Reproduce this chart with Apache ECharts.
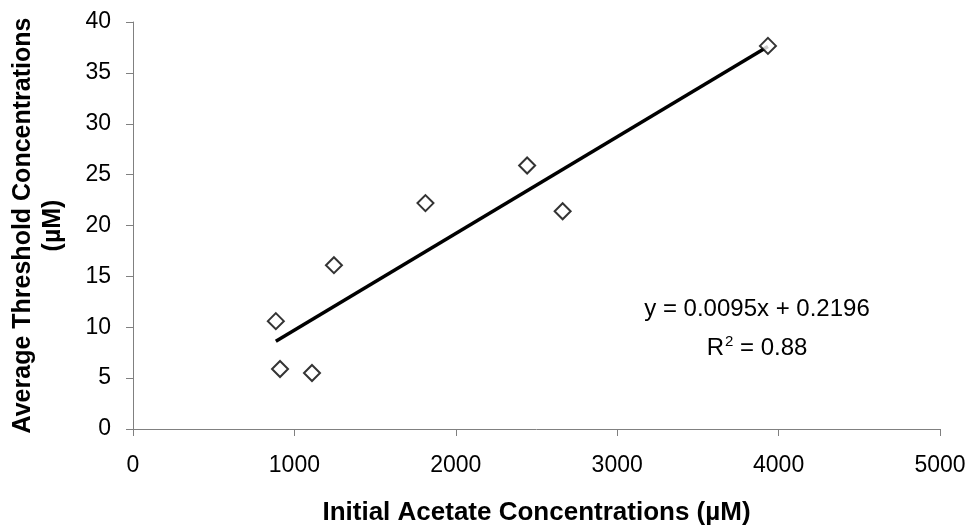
<!DOCTYPE html>
<html>
<head>
<meta charset="utf-8">
<script src="https://cdn.jsdelivr.net/npm/echarts@6/dist/echarts.min.js"></script>
<style>
html,body{margin:0;padding:0;background:#fff;}
#chart{width:971px;height:527px;}
</style>
</head>
<body>
<div id="chart"></div>
<script>
const xValues = [885, 911, 1109, 1245, 1812, 2442, 2662, 3934];
const yValues = [10.6, 5.9, 5.5, 16.1, 22.2, 25.9, 21.4, 37.65];
const slope = 0.0095;
const intercept = 0.2196;
const equationText = 'y = 0.0095x + 0.2196';
const r2Text = '0.88';
const xTitle = 'Initial Acetate Concentrations (µM)';
const yTitle = 'Average Threshold Concentrations\n(µM)';

const points = xValues.map((x, i) => [x, yValues[i]]);
const xMin = Math.min(...xValues), xMax = Math.max(...xValues);
const trend = [[xMin, slope * xMin + intercept], [xMax, slope * xMax + intercept]];

const chart = echarts.init(document.getElementById('chart'));
const font = 'Liberation Sans, Arial, sans-serif';
chart.setOption({
  animation: false,
  backgroundColor: '#fff',
  grid: { left: 133, right: 31, top: 22, bottom: 98, containLabel: false, outerBoundsMode: 'none' },
  xAxis: {
    type: 'value', min: 0, max: 5000, interval: 1000,
    splitLine: { show: false },
    axisLine: { lineStyle: { color: '#808080', width: 1 } },
    axisTick: { show: true, length: 7, lineStyle: { color: '#808080' } },
    axisLabel: { color: '#000', fontSize: 23, fontFamily: font, margin: 25, formatter: v => String(v) },
    name: xTitle, nameLocation: 'middle', nameGap: 71,
    nameTextStyle: { color: '#000', fontSize: 26, fontWeight: 'bold', fontFamily: font }
  },
  yAxis: {
    type: 'value', min: 0, max: 40, interval: 5,
    splitLine: { show: false },
    axisLine: { show: true, lineStyle: { color: '#808080', width: 1 } },
    axisTick: { show: true, length: 7, lineStyle: { color: '#808080' } },
    axisLabel: { color: '#000', fontSize: 23, fontFamily: font, margin: 22 },
    name: yTitle, nameLocation: 'middle', nameGap: 65,
    nameTextStyle: { color: '#000', fontSize: 25, fontWeight: 'bold', fontFamily: font, lineHeight: 30, align: 'center' }
  },
  series: [
    {
      type: 'line', data: trend, symbol: 'none', silent: true,
      lineStyle: { color: '#000', width: 3.5 }, z: 2
    },
    {
      type: 'scatter', data: points, symbol: 'diamond', symbolSize: [16, 16],
      itemStyle: { color: '#fff', borderColor: '#000', borderWidth: 2 }, z: 3
    }
  ],
  graphic: [
    {
      type: 'text', x: 757, y: 309,
      style: { text: equationText, fontSize: 24, fontFamily: font, fill: '#000', align: 'center', verticalAlign: 'middle' }
    },
    {
      type: 'text', x: 757, y: 347,
      style: {
        text: '{a|R}{s|2}{a| = ' + r2Text + '}',
        align: 'center', verticalAlign: 'middle',
        rich: {
          a: { fontSize: 24, fontFamily: font, fill: '#000', verticalAlign: 'bottom', lineHeight: 26 },
          s: { fontSize: 15, fontFamily: font, fill: '#000', verticalAlign: 'top', lineHeight: 15, padding: [0, 0, 0, 1] }
        }
      }
    }
  ]
});
</script>
</body>
</html>
